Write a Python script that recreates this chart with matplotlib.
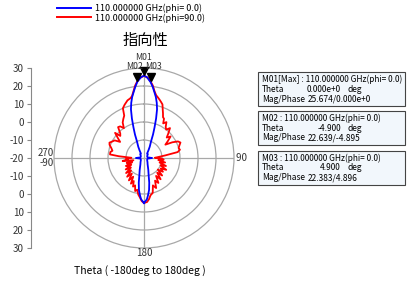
import numpy as np
import matplotlib
matplotlib.use("Agg")
import matplotlib.pyplot as plt
from matplotlib.patches import Rectangle
from matplotlib.transforms import offset_copy

plt.rcParams['font.family'] = ['Noto Sans CJK JP', 'DejaVu Sans']
plt.rcParams['axes.unicode_minus'] = False

# phi = 0 cut (blue)
theta_phi0 = [-180, -176, -174, -171, -168, -165, -160, -150, -140, -120, -100, -90, -80, -60, -45,
              -35, -30, -27, -23, -21, -19, -17, -15, -13, -11, -9, -7, -4.9, -2, 0,
              2, 4.9, 7, 9, 11, 13, 15, 17, 19, 21, 23, 27, 30, 35, 45, 60, 80, 90,
              100, 120, 140, 150, 160, 165, 168, 171, 174, 176, 180]
gain_phi0 = [5, 3, 1, -2, -6, -10, -13, -16, -17, -18, -18, -15.5, -18, -18, -17,
             -17, -15, -13, -10, -6, -2, 3, 8, 11.5, 14.5, 17, 19.8, 22.639, 25, 25.674,
             25, 22.383, 19.8, 17, 14.5, 11.5, 8, 3, -2, -6, -10, -13, -15, -17, -17, -18, -18, -15.5,
             -18, -18, -17, -16, -13, -10, -6, -2, 1, 3, 5]

# phi = 90 cut (red)
theta_phi90 = [-180, -177, -174, -171, -168, -165, -162, -159, -156, -153, -150, -146, -142,
               -138, -134, -130, -126, -122, -118, -114, -110, -106, -102, -98, -95, -92,
               -89, -86, -84, -80, -77, -73, -69, -66, -63, -59, -56, -53, -49, -47, -44,
               -40, -37, -34, -31, -28, -25, -23, -20, -16, -13, -11, -9, -7, -5, -3, 0,
               3, 5, 7, 9, 11, 13, 15, 17, 19, 21, 23, 25, 27, 29, 32, 35, 38, 41, 45,
               48, 51, 55, 58, 61, 64, 67, 70, 74, 77, 80, 83, 86, 89,
               92, 95, 98, 102, 106, 110, 114, 118, 122, 126, 130, 134, 138, 142, 146,
               150, 154, 158, 162, 166, 170, 173, 176, 180]
gain_phi90 = [5, 4, 2, 0.5, -2, -1, -4, -3, -6, -4, -8, -5, -9,
              -6, -10, -7, -11, -8, -12, -9, -13, -10, -14, -8, -11, -10,
              -13, -6, -1, -1, -2, -1, 0.5, 1, 0, -1, -4, -2, 1.3, -2, -1,
              2.4, 2, 0, 3, 4.5, 6, 10, 11.5, 13.3, 14, 15, 17.5, 20.5, 22.8, 24.5, 25.674,
              24.5, 22.6, 20.5, 17.5, 15.5, 14.5, 13.5, 12.5, 11.5, 9, 7, 5, 4.5, 2, 3.5, 1, 0, 2, -1,
              -3, -1, -4, -6, -2, 1, 2, 1, 0, 0.5, -1, -8, -12, -14,
              -10, -9, -12, -8, -11, -7, -10, -6, -9, -7, -10, -6, -9, -5, -8,
              -4, -6, -2, -4, 0, 1, 3, 4.5, 5]

markers = ['M01', 'M02', 'M03']
marker_theta = [0.0, -4.9, 4.9]
marker_gain = [25.674, 22.639, 22.383]
marker_label_offset = [(0, 13), (-2, 11), (2, 11)]

radial_ticks = ['30', '20', '10', '0', '-10', '-20', '-10', '0', '10', '20', '30']

box_head = ["M01[Max] : 110.000000 GHz(phi= 0.0)",
            "M02 : 110.000000 GHz(phi= 0.0)",
            "M03 : 110.000000 GHz(phi= 0.0)"]
box_theta = ["0.000e+0", "-4.900", "4.900"]
box_magphase = ["25.674/0.000e+0", "22.639/-4.895", "22.383/4.896"]

W, H = 414, 285
fig = plt.figure(figsize=(W / 100, H / 100), dpi=100)


def fx(px):
    return px / W


def fy(py):
    return 1 - py / H


grid_col = '#a8a8a8'
ax = fig.add_axes([fx(54), fy(248), fx(180), 180 / H], projection='polar')
ax.set_theta_zero_location('N')
ax.set_theta_direction(-1)
ax.set_rlim(-20, 30)
ax.set_rgrids([-10, 0, 10, 20], labels=[])
ax.set_thetagrids([0, 90, 180, 270], labels=[])
ax.grid(True, color=grid_col, lw=0.9)
ax.spines['polar'].set_color(grid_col)
ax.spines['polar'].set_linewidth(0.9)

ax.plot(np.deg2rad(theta_phi0), gain_phi0, color='#0000ff', lw=1.3, zorder=3)
ax.plot(np.deg2rad(theta_phi90), gain_phi90, color='#ff0000', lw=1.3, zorder=2)

tri_tr = offset_copy(ax.transData, fig=fig, x=0, y=3.5, units='points')
ax.plot(np.deg2rad(marker_theta), marker_gain, 'v', color='black', ms=6,
        transform=tri_tr, clip_on=False, zorder=5)
for name, t, g, off in zip(markers, marker_theta, marker_gain, marker_label_offset):
    ax.annotate(name, (np.deg2rad(t), g), xytext=off,
                textcoords='offset points', ha='center', va='center',
                fontsize=6.3, color='#333333', annotation_clip=False, zorder=6)

ax.text(np.deg2rad(90), 30, ' 90', ha='left', va='center', fontsize=7, color='#333333')
ax.text(np.deg2rad(180), 30, '180', ha='center', va='top', fontsize=7, color='#333333')
ax.text(np.deg2rad(270), 30, '270\n-90', ha='right', va='center', fontsize=7,
        color='#333333', linespacing=0.95, multialignment='right')

# left radial scale
ax2 = fig.add_axes([fx(30.7), fy(248), 0.0001, 180 / H])
ax2.set_ylim(0, 10)
ax2.set_yticks(range(11))
ax2.set_yticklabels(radial_ticks)
ax2.set_xticks([])
for s in ['top', 'right', 'bottom']:
    ax2.spines[s].set_visible(False)
ax2.spines['left'].set_color('#888888')
ax2.tick_params(axis='y', length=3, color='#888888', labelsize=7, labelcolor='#333333', pad=2)

fig.text(fx(145), fy(40), '指向性', ha='center', va='center', fontsize=11)
fig.text(fx(140), fy(271), 'Theta ( -180deg to 180deg )', ha='center', va='center', fontsize=7.5)

# legend
h1, = ax.plot([], [], color='#0000ff', lw=1.4)
h2, = ax.plot([], [], color='#ff0000', lw=1.4)
fig.legend([h1, h2], ['110.000000 GHz(phi= 0.0)', '110.000000 GHz(phi=90.0)'],
           loc='upper left', bbox_to_anchor=(fx(52), fy(-1)), frameon=False,
           fontsize=6.5, handlelength=3.8, handletextpad=0.5, labelspacing=0.05,
           borderpad=0.0)

# marker boxes
box_tops = [72, 111, 151]
for top, head, th, mp in zip(box_tops, box_head, box_theta, box_magphase):
    fig.patches.append(Rectangle((fx(258), fy(top + 34)), fx(147), 34 / H,
                                 transform=fig.transFigure, facecolor='#f2f7fc',
                                 edgecolor='#444444', lw=0.8))
    fig.text(fx(262), fy(top + 7), head, fontsize=6.0, va='center', ha='left')
    fig.text(fx(262), fy(top + 17), 'Theta', fontsize=6.0, va='center', ha='left')
    fig.text(fx(341), fy(top + 17), th, fontsize=6.0, va='center', ha='right')
    fig.text(fx(348), fy(top + 17), 'deg', fontsize=6.0, va='center', ha='left')
    fig.text(fx(262), fy(top + 27), 'Mag/Phase', fontsize=6.0, va='center', ha='left')
    fig.text(fx(308), fy(top + 27), mp, fontsize=6.0, va='center', ha='left')

fig.savefig('out.png', dpi=100)
